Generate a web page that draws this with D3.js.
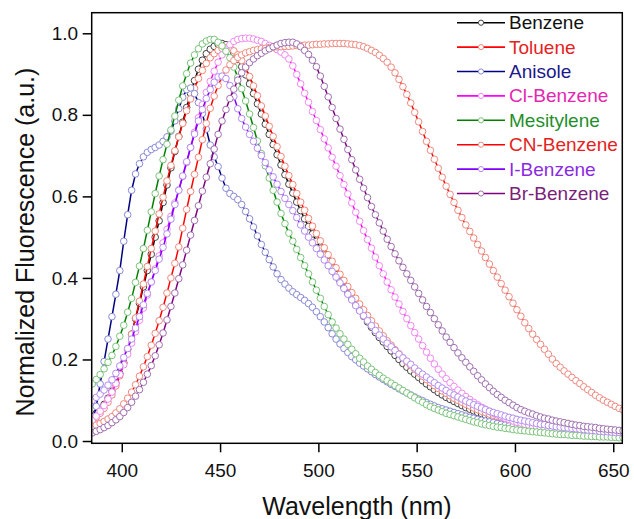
<!DOCTYPE html>
<html><head><meta charset="utf-8">
<script src="https://cdn.jsdelivr.net/npm/d3@7"></script>
<style>body{margin:0;background:#fff}svg{display:block}text{font-family:"Liberation Sans",Arial,sans-serif}</style>
</head><body><svg id="c" width="634" height="519"></svg>
<script>
// sampling grid (nm)
const wavelengths = d3.range(385, 656, 2);

const benzene = [0.060,0.068,0.078,0.090,0.105,0.122,0.142,0.165,0.192,0.225,
0.262,0.300,0.338,0.378,0.418,0.458,0.500,0.540,0.585,0.628,
0.670,0.710,0.747,0.782,0.818,0.852,0.884,0.912,0.934,0.950,
0.961,0.968,0.973,0.975,0.972,0.964,0.952,0.936,0.918,0.898,
0.876,0.852,0.827,0.802,0.777,0.752,0.727,0.702,0.677,0.653,
0.630,0.608,0.586,0.565,0.545,0.526,0.508,0.490,0.473,0.456,
0.440,0.424,0.408,0.392,0.377,0.362,0.348,0.334,0.320,0.306,
0.292,0.279,0.266,0.254,0.243,0.232,0.221,0.210,0.200,0.190,
0.181,0.172,0.164,0.156,0.148,0.140,0.133,0.126,0.119,0.113,
0.107,0.102,0.097,0.092,0.087,0.082,0.078,0.074,0.070,0.067,
0.063,0.060,0.057,0.054,0.051,0.048,0.046,0.043,0.041,0.039,
0.037,0.035,0.033,0.031,0.030,0.028,0.027,0.025,0.024,0.023,
0.022,0.021,0.020,0.019,0.018,0.017,0.017,0.016,0.015,0.015,
0.014,0.013,0.013,0.012,0.012,0.011];

const toluene = [0.050,0.058,0.068,0.080,0.095,0.113,0.135,0.160,0.190,0.225,
0.262,0.302,0.343,0.385,0.428,0.472,0.515,0.557,0.598,0.638,
0.676,0.712,0.746,0.779,0.810,0.839,0.865,0.889,0.909,0.926,
0.940,0.950,0.958,0.963,0.965,0.963,0.957,0.947,0.933,0.915,
0.894,0.871,0.847,0.822,0.797,0.772,0.747,0.722,0.698,0.674,
0.651,0.629,0.607,0.586,0.566,0.546,0.527,0.509,0.491,0.474,
0.457,0.441,0.425,0.409,0.394,0.379,0.364,0.350,0.336,0.322,
0.308,0.295,0.282,0.270,0.258,0.246,0.235,0.224,0.214,0.204,
0.194,0.185,0.176,0.167,0.159,0.151,0.143,0.136,0.129,0.123,
0.117,0.111,0.105,0.100,0.095,0.090,0.086,0.081,0.077,0.073,
0.070,0.066,0.063,0.060,0.057,0.054,0.052,0.049,0.047,0.045,
0.043,0.041,0.039,0.037,0.035,0.034,0.032,0.031,0.029,0.028,
0.027,0.026,0.025,0.024,0.023,0.022,0.021,0.020,0.019,0.018,
0.018,0.017,0.016,0.016,0.015,0.015];

const anisole = [0.045,0.085,0.140,0.195,0.250,0.305,0.360,0.418,0.490,0.555,
0.615,0.655,0.680,0.697,0.708,0.715,0.720,0.726,0.735,0.746,
0.760,0.785,0.815,0.843,0.862,0.866,0.852,0.830,0.803,0.765,
0.726,0.697,0.673,0.645,0.620,0.607,0.600,0.592,0.580,0.563,
0.545,0.525,0.503,0.482,0.463,0.445,0.427,0.410,0.396,0.385,
0.375,0.366,0.359,0.352,0.345,0.337,0.328,0.317,0.305,0.292,
0.278,0.263,0.250,0.238,0.227,0.217,0.207,0.199,0.191,0.184,
0.177,0.170,0.163,0.157,0.151,0.145,0.139,0.134,0.128,0.123,
0.118,0.113,0.108,0.103,0.099,0.094,0.090,0.086,0.082,0.079,
0.076,0.073,0.070,0.067,0.064,0.061,0.058,0.056,0.053,0.051,
0.049,0.047,0.045,0.043,0.041,0.039,0.037,0.036,0.034,0.033,
0.031,0.030,0.029,0.028,0.026,0.025,0.024,0.023,0.022,0.021,
0.020,0.019,0.019,0.018,0.017,0.016,0.016,0.015,0.015,0.014,
0.014,0.013,0.013,0.012,0.012,0.011];

const clBenzene = [0.050,0.061,0.073,0.087,0.103,0.120,0.141,0.163,0.187,0.213,
0.240,0.268,0.296,0.326,0.358,0.390,0.422,0.454,0.486,0.519,
0.551,0.584,0.616,0.649,0.683,0.720,0.757,0.793,0.825,0.855,
0.882,0.907,0.929,0.947,0.961,0.972,0.980,0.985,0.987,0.988,
0.988,0.986,0.983,0.980,0.975,0.970,0.965,0.960,0.954,0.947,
0.937,0.920,0.899,0.876,0.853,0.831,0.808,0.786,0.764,0.741,
0.719,0.696,0.674,0.651,0.629,0.606,0.584,0.561,0.539,0.516,
0.494,0.473,0.451,0.430,0.410,0.390,0.371,0.353,0.336,0.318,
0.300,0.283,0.266,0.250,0.234,0.218,0.203,0.189,0.176,0.164,
0.153,0.143,0.134,0.125,0.117,0.109,0.102,0.095,0.089,0.083,
0.078,0.073,0.068,0.064,0.060,0.056,0.053,0.049,0.046,0.044,
0.041,0.039,0.037,0.035,0.033,0.031,0.030,0.028,0.027,0.026,
0.025,0.024,0.023,0.022,0.021,0.020,0.019,0.019,0.018,0.017,
0.017,0.016,0.016,0.015,0.015,0.015];

const mesitylene = [0.140,0.151,0.163,0.177,0.193,0.210,0.232,0.257,0.284,0.316,
0.350,0.389,0.429,0.472,0.517,0.562,0.607,0.650,0.690,0.728,
0.763,0.797,0.836,0.871,0.901,0.927,0.947,0.962,0.974,0.981,
0.985,0.985,0.978,0.969,0.956,0.940,0.917,0.892,0.864,0.834,
0.802,0.769,0.736,0.705,0.675,0.645,0.615,0.586,0.558,0.533,
0.510,0.490,0.470,0.450,0.430,0.410,0.390,0.370,0.350,0.330,
0.310,0.292,0.277,0.263,0.250,0.237,0.225,0.214,0.203,0.194,
0.184,0.176,0.168,0.161,0.154,0.148,0.142,0.136,0.130,0.124,
0.118,0.112,0.106,0.100,0.095,0.089,0.084,0.080,0.076,0.072,
0.068,0.065,0.062,0.059,0.056,0.053,0.050,0.047,0.045,0.042,
0.040,0.038,0.036,0.034,0.033,0.031,0.030,0.028,0.027,0.026,
0.025,0.024,0.023,0.022,0.021,0.020,0.019,0.018,0.017,0.016,
0.016,0.015,0.014,0.014,0.013,0.012,0.012,0.011,0.011,0.010,
0.010,0.010,0.009,0.009,0.008,0.008];

const cnBenzene = [0.036,0.039,0.043,0.048,0.054,0.060,0.069,0.079,0.091,0.105,
0.120,0.138,0.159,0.182,0.207,0.235,0.264,0.295,0.328,0.363,
0.400,0.436,0.476,0.522,0.568,0.612,0.654,0.696,0.739,0.779,
0.816,0.846,0.872,0.893,0.910,0.923,0.933,0.941,0.947,0.952,
0.955,0.958,0.960,0.962,0.963,0.965,0.966,0.967,0.967,0.968,
0.968,0.969,0.970,0.970,0.971,0.971,0.972,0.973,0.973,0.974,
0.974,0.975,0.975,0.975,0.975,0.974,0.973,0.972,0.970,0.967,
0.963,0.958,0.953,0.946,0.938,0.929,0.917,0.903,0.887,0.869,
0.850,0.829,0.806,0.783,0.759,0.735,0.713,0.691,0.669,0.647,
0.625,0.605,0.585,0.566,0.548,0.530,0.514,0.498,0.482,0.466,
0.450,0.434,0.418,0.402,0.386,0.370,0.354,0.338,0.322,0.306,
0.290,0.276,0.262,0.249,0.237,0.225,0.213,0.201,0.190,0.181,
0.172,0.164,0.156,0.148,0.141,0.133,0.126,0.119,0.112,0.106,
0.100,0.095,0.090,0.085,0.080,0.076];

const iBenzene = [0.100,0.107,0.115,0.125,0.137,0.150,0.166,0.184,0.205,0.227,
0.250,0.277,0.305,0.334,0.362,0.390,0.418,0.446,0.475,0.508,
0.544,0.580,0.615,0.650,0.685,0.720,0.753,0.785,0.813,0.840,
0.862,0.880,0.893,0.895,0.889,0.872,0.845,0.815,0.791,0.770,
0.752,0.735,0.718,0.700,0.683,0.665,0.648,0.630,0.612,0.595,
0.580,0.565,0.548,0.530,0.515,0.500,0.486,0.472,0.458,0.444,
0.430,0.416,0.402,0.388,0.374,0.360,0.346,0.332,0.319,0.307,
0.295,0.283,0.271,0.260,0.250,0.240,0.231,0.222,0.213,0.204,
0.196,0.188,0.179,0.171,0.164,0.157,0.150,0.143,0.136,0.130,
0.124,0.118,0.113,0.108,0.103,0.098,0.094,0.089,0.085,0.081,
0.077,0.073,0.070,0.067,0.064,0.061,0.058,0.056,0.053,0.051,
0.049,0.047,0.045,0.043,0.041,0.040,0.038,0.037,0.035,0.034,
0.033,0.032,0.031,0.030,0.029,0.028,0.027,0.026,0.025,0.024,
0.023,0.023,0.022,0.021,0.021,0.020];

const brBenzene = [0.020,0.024,0.028,0.033,0.038,0.045,0.052,0.060,0.070,0.082,
0.095,0.110,0.126,0.144,0.164,0.185,0.209,0.236,0.265,0.297,
0.330,0.363,0.398,0.432,0.468,0.505,0.541,0.577,0.613,0.647,
0.680,0.716,0.752,0.785,0.813,0.840,0.863,0.885,0.903,0.917,
0.928,0.937,0.945,0.951,0.957,0.962,0.967,0.971,0.975,0.977,
0.978,0.978,0.974,0.967,0.958,0.948,0.934,0.918,0.895,0.870,
0.844,0.818,0.791,0.765,0.740,0.715,0.690,0.665,0.642,0.620,
0.597,0.575,0.555,0.535,0.515,0.495,0.477,0.459,0.442,0.426,
0.410,0.394,0.378,0.362,0.346,0.330,0.315,0.300,0.285,0.270,
0.255,0.242,0.229,0.216,0.204,0.193,0.182,0.171,0.160,0.150,
0.140,0.131,0.122,0.114,0.107,0.100,0.094,0.088,0.082,0.077,
0.073,0.069,0.066,0.062,0.059,0.056,0.054,0.051,0.049,0.047,
0.045,0.043,0.041,0.039,0.038,0.036,0.035,0.034,0.033,0.031,
0.030,0.029,0.028,0.027,0.026,0.025];

const seriesNames = ["Benzene","Toluene","Anisole","Cl-Benzene","Mesitylene","CN-Benzene","I-Benzene","Br-Benzene"];
const seriesValues = [benzene, toluene, anisole, clBenzene, mesitylene, cnBenzene, iBenzene, brBenzene];
const xTicks = [400, 450, 500, 550, 600, 650];
const yTicks = [0.0, 0.2, 0.4, 0.6, 0.8, 1.0];

const lineColors   = ["#000000","#ff0000","#000080","#ff00ff","#008000","#ff0000","#8000ff","#800080"];
const markerColors = ["#444444","#f08878","#8a8ad6","#f08af0","#7cc47c","#ee8a80","#b48cf0","#a070b0"];
const textColors   = ["#111111","#e52222","#1a1a8c","#e526b0","#1f8f2a","#e52222","#8a2be2","#7a1f7a"];

const svg = d3.select("#c");
const x = d3.scaleLinear().domain([384.7, 654.6]).range([91.7, 622.3]);
const y = d3.scaleLinear().domain([-0.0056, 1.0505]).range([443.3, 12.7]);

svg.append("defs").append("clipPath").attr("id","clip")
  .append("rect").attr("x",91.7).attr("y",12.7).attr("width",530.6).attr("height",430.6);

const plot = svg.append("g").attr("clip-path","url(#clip)");
const line = d3.line().x((d,i)=>x(wavelengths[i])).y(d=>y(d));

seriesValues.forEach((vals, k) => {
  const g = plot.append("g");
  g.append("path").datum(vals).attr("d", line)
    .attr("fill","none").attr("stroke", lineColors[k]).attr("stroke-width",1.5);
  g.selectAll("circle").data(vals).join("circle")
    .attr("cx",(d,i)=>x(wavelengths[i])).attr("cy",d=>y(d)).attr("r",3.3)
    .attr("fill","#fff").attr("stroke", markerColors[k]).attr("stroke-width",1);
});

// axes
const xAxis = svg.append("g").attr("transform","translate(0,443.3)")
  .call(d3.axisBottom(x).tickValues(xTicks).tickSize(9).tickPadding(11).tickFormat(d3.format("d")));
const yAxis = svg.append("g").attr("transform","translate(91.7,0)")
  .call(d3.axisLeft(y).tickValues(yTicks).tickSize(9).tickPadding(4.5).tickFormat(d3.format(".1f")));
[xAxis, yAxis].forEach(a => {
  a.select(".domain").remove();
  a.selectAll("line").attr("stroke","#000").attr("stroke-width",1.5);
  a.selectAll("text").attr("font-size",19).attr("fill","#111")
    .style("font-family","'Liberation Sans',Arial,sans-serif");
});

svg.append("rect").attr("x",91.7).attr("y",12.7).attr("width",530.6).attr("height",430.6)
  .attr("fill","none").attr("stroke","#000").attr("stroke-width",1.5);

svg.append("text").attr("x",357).attr("y",515).attr("text-anchor","middle")
  .attr("font-size",25).attr("fill","#111").text("Wavelength (nm)");
svg.append("text").attr("transform","translate(34,242) rotate(-90)").attr("text-anchor","middle")
  .attr("font-size",25).attr("fill","#111").text("Normalized Fluorescence (a.u.)");

// legend
const leg = svg.append("g");
seriesNames.forEach((name, k) => {
  const cy = 22.7 + k * 24.4;
  leg.append("line").attr("x1",457).attr("x2",505).attr("y1",cy).attr("y2",cy)
    .attr("stroke", lineColors[k]).attr("stroke-width",1.6);
  leg.append("circle").attr("cx",481).attr("cy",cy).attr("r",2.6)
    .attr("fill","#fff").attr("stroke", markerColors[k]).attr("stroke-width",1);
  leg.append("text").attr("x",509).attr("y",cy+6.5).attr("font-size",19)
    .attr("fill", textColors[k]).text(name);
});
</script></body></html>
